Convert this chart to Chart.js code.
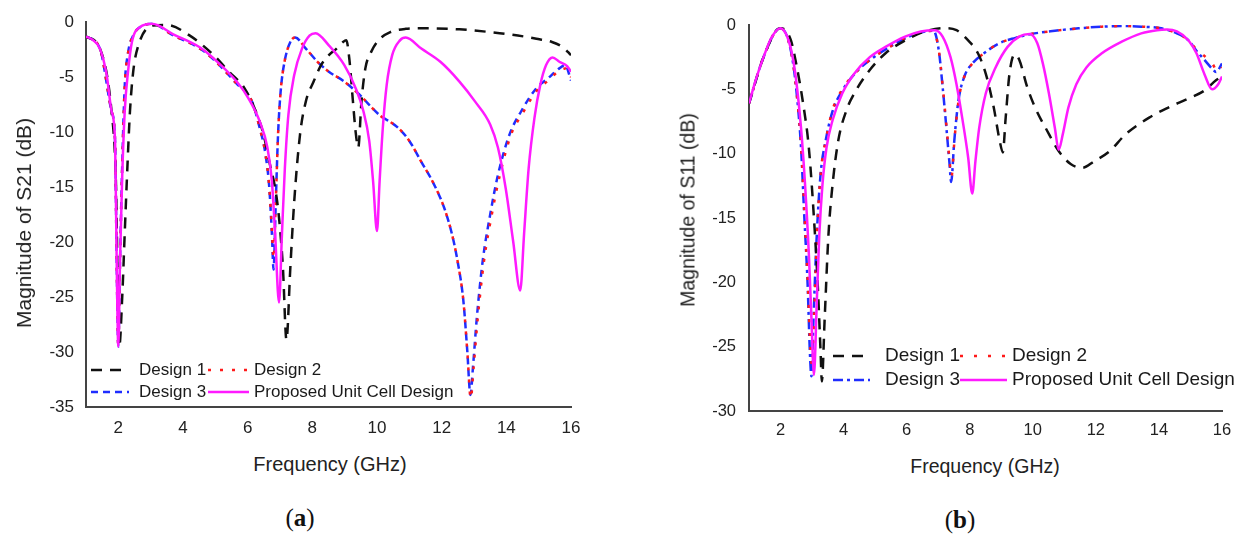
<!DOCTYPE html>
<html lang="en">
<head>
    <meta charset="UTF-8">
    <title>S21 / S11 - unit cell designs</title>
    <script src="https://cdn.jsdelivr.net/npm/chart.js"></script>
    <style>
        body { margin: 0; background: #fff; }
        #wrap { position: relative; width: 1249px; height: 536px; overflow: hidden;
                font-family: "Liberation Sans", Arial, sans-serif; color: #222; }
        canvas { position: absolute; top: 0; }
        .lbl { position: absolute; white-space: nowrap; transform: translate(-50%, -50%); }
        .ytitle { transform: translate(-50%, -50%) rotate(-90deg); }
        .cap { font-family: "Liberation Serif", serif; font-size: 25px; color: #111; }
    </style>
</head>
<body>
<div id="wrap">
    <canvas id="chartA" width="600" height="440" style="left:0"></canvas>
    <canvas id="chartB" width="609" height="440" style="left:640px"></canvas>

    <div class="lbl ytitle" style="left:24px; top:223px; font-size:21px">Magnitude of S21 (dB)</div>
    <div class="lbl" style="left:330px; top:464px; font-size:20px">Frequency (GHz)</div>
    <div class="lbl cap" style="left:300px; top:518px">(<b>a</b>)</div>

    <div class="lbl ytitle" style="left:688px; top:210px; font-size:19.5px">Magnitude of S11 (dB)</div>
    <div class="lbl" style="left:985px; top:466px; font-size:19.5px">Frequency (GHz)</div>
    <div class="lbl cap" style="left:960px; top:520px">(<b>b</b>)</div>
</div>

<script>
    // tick labels
    var xTicks = [2, 4, 6, 8, 10, 12, 14, 16];
    var seriesNames = ['Design 1', 'Design 2', 'Design 3', 'Proposed Unit Cell Design'];

    // ---- (a) S21 ----
    var s21F1 = [1, 1.43, 1.79, 1.92, 2.03, 2.12, 2.2, 2.29, 2.36, 2.46, 2.62, 3.07, 3.5, 4.2, 4.95, 5.42, 5.9, 6.25, 6.49, 6.67, 6.85, 6.97, 7.09, 7.2, 7.32, 7.44, 7.62, 7.8, 8.04, 8.27, 8.51, 8.75, 8.95, 9.05, 9.15, 9.25, 9.34, 9.42, 9.52, 9.64, 9.82, 10.06, 10.41, 10.89, 11.37, 12.55, 13.5, 14.1, 14.93, 15.41, 15.76, 16];
    var s21D1 = [-1.3, -2.4, -8.1, -14, -29.5, -25, -19, -12.5, -8.1, -4.5, -2.1, -0.3, -0.25, -1.2, -3.0, -4.5, -6.0, -8.1, -10.2, -12.7, -15.1, -17.8, -22.3, -28.9, -22.3, -16.3, -10.2, -7.2, -5.4, -3.9, -3.0, -2.4, -1.8, -1.65, -3.5, -7.0, -10.0, -11.4, -7.2, -4.2, -2.7, -1.6, -0.9, -0.6, -0.55, -0.65, -0.9, -1.1, -1.5, -1.8, -2.3, -3.0];

    var s21F2 = [1, 1.43, 1.79, 1.9, 1.95, 2.0, 2.05, 2.12, 2.2, 2.3, 2.46, 2.67, 3.04, 3.7, 4.53, 4.95, 5.66, 6.13, 6.37, 6.55, 6.67, 6.75, 6.8, 6.87, 6.94, 7.02, 7.14, 7.32, 7.47, 7.8, 8.16, 8.51, 8.99, 9.46, 10.06, 10.65, 11.0, 11.37, 11.72, 12.08, 12.32, 12.49, 12.67, 12.79, 12.9, 12.99, 13.12, 13.31, 13.55, 13.8, 14.15, 14.5, 14.95, 15.3, 15.64, 15.84, 16];
    var s21D2 = [-1.3, -2.4, -8.1, -10.9, -22, -29.5, -22, -13, -5.7, -2.8, -1.2, -0.45, -0.15, -1.2, -2.4, -3.4, -5.6, -7.2, -9.6, -12.0, -15.1, -19.0, -21.5, -16.3, -10.2, -6.3, -3.6, -1.8, -1.4, -2.4, -3.6, -4.5, -5.4, -6.6, -8.4, -9.6, -10.8, -12.7, -14.5, -16.9, -19.3, -21.7, -25.3, -29.8, -34.2, -31.3, -26.8, -21.7, -17.5, -13.9, -10.2, -8.3, -6.2, -5.3, -4.4, -4.2, -5.0];

    var s21F3 = [1, 1.43, 1.79, 1.9, 1.95, 2.0, 2.05, 2.12, 2.2, 2.3, 2.46, 2.67, 3.04, 3.7, 4.53, 4.95, 5.66, 6.13, 6.37, 6.55, 6.67, 6.75, 6.8, 6.87, 6.94, 7.02, 7.14, 7.32, 7.47, 7.8, 8.16, 8.51, 8.99, 9.46, 10.06, 10.65, 11.0, 11.37, 11.72, 12.08, 12.32, 12.49, 12.67, 12.79, 12.89, 12.97, 13.09, 13.27, 13.5, 13.74, 14.1, 14.46, 14.93, 15.29, 15.64, 15.82, 16];
    var s21D3 = [-1.3, -2.4, -8.1, -10.9, -22, -29.5, -22, -13, -5.7, -2.8, -1.2, -0.45, -0.15, -1.2, -2.4, -3.4, -5.6, -7.2, -9.6, -12.0, -15.1, -19.3, -22.5, -16.3, -10.2, -6.3, -3.6, -1.8, -1.4, -2.4, -3.6, -4.5, -5.4, -6.6, -8.4, -9.6, -10.8, -12.7, -14.5, -16.9, -19.3, -21.7, -25.3, -29.8, -33.9, -31.3, -26.8, -21.7, -17.5, -13.9, -10.2, -8.1, -6.0, -5.1, -4.2, -3.9, -5.3];

    var s21FP = [1, 1.2, 1.43, 1.64, 1.79, 1.9, 1.95, 2.0, 2.05, 2.12, 2.2, 2.3, 2.42, 2.67, 3.04, 3.7, 4.53, 4.95, 5.66, 6.02, 6.37, 6.61, 6.75, 6.85, 6.97, 7.06, 7.15, 7.26, 7.44, 7.68, 7.92, 8.1, 8.51, 8.99, 9.34, 9.58, 9.76, 9.88, 10.0, 10.08, 10.18, 10.3, 10.47, 10.71, 10.89, 11.37, 11.96, 12.55, 13.03, 13.5, 13.74, 13.98, 14.21, 14.43, 14.55, 14.69, 14.87, 15.05, 15.23, 15.43, 15.64, 15.88, 16];
    var s21P = [-1.3, -1.6, -2.4, -4.8, -8.1, -10.9, -22, -29.5, -22, -14, -8, -4.5, -1.8, -0.45, -0.15, -1.1, -2.3, -3.3, -5.4, -6.9, -9.0, -11.4, -14.5, -19.3, -25.5, -19.3, -13.3, -8.4, -4.8, -2.4, -1.2, -1.0, -2.1, -3.9, -6.0, -8.1, -10.8, -14.5, -19.0, -14.5, -9.6, -5.7, -3.0, -1.65, -1.4, -2.4, -3.6, -5.4, -7.2, -9.3, -11.4, -15.1, -19.9, -24.4, -19.2, -13.3, -8.7, -5.7, -3.9, -3.2, -3.6, -4.0, -4.5];

    // ---- (b) S11 ----
    var s11F1 = [1, 1.46, 1.99, 2.15, 2.33, 2.52, 2.71, 2.9, 3.08, 3.18, 3.27, 3.31, 3.4, 3.52, 3.65, 3.83, 4.08, 4.39, 4.83, 5.33, 5.95, 6.58, 7.2, 7.58, 7.95, 8.26, 8.51, 8.76, 8.95, 9.05, 9.14, 9.26, 9.42, 9.57, 9.82, 10.07, 10.45, 10.82, 11.2, 11.57, 11.94, 12.44, 12.94, 13.69, 14.31, 14.94, 15.44, 15.81, 16];
    var s11D1 = [-6.1, -2.5, -0.25, -0.4, -1.2, -3.3, -6.0, -9.6, -15.8, -20.2, -25.4, -27.7, -22.8, -16.3, -12.4, -9.0, -6.7, -5.1, -3.5, -2.2, -1.2, -0.5, -0.25, -0.4, -1.2, -2.2, -3.8, -6.4, -9.0, -9.9, -7.2, -3.8, -2.3, -2.7, -4.8, -6.4, -8.2, -9.8, -10.8, -11.1, -10.6, -9.8, -8.5, -7.2, -6.4, -5.7, -5.1, -4.3, -4.0];

    var s11F2 = [1, 1.46, 1.99, 2.21, 2.4, 2.52, 2.65, 2.75, 2.86, 2.94, 3.0, 3.07, 3.16, 3.28, 3.44, 3.65, 3.96, 4.46, 4.96, 5.46, 6.08, 6.58, 6.85, 7.02, 7.14, 7.26, 7.36, 7.42, 7.52, 7.65, 7.83, 8.08, 8.45, 8.95, 9.45, 9.95, 10.7, 11.45, 12.19, 12.82, 13.44, 14.07, 14.57, 14.94, 15.19, 15.44, 15.69, 15.88, 16];
    var s11D2 = [-6.1, -2.5, -0.25, -0.9, -3.0, -5.5, -9.3, -14.2, -19.8, -24.8, -26.5, -22.3, -16.0, -11.4, -8.9, -6.6, -5.0, -3.5, -2.5, -1.7, -0.9, -0.5, -0.45, -2.0, -4.7, -7.8, -10.5, -11.8, -8.8, -5.8, -4.0, -3.0, -2.2, -1.4, -1.0, -0.7, -0.45, -0.26, -0.13, -0.08, -0.13, -0.26, -0.65, -1.2, -1.9, -2.4, -3.0, -3.65, -3.3];

    var s11F3 = [1, 1.46, 1.99, 2.21, 2.4, 2.52, 2.65, 2.75, 2.86, 2.93, 2.98, 3.05, 3.15, 3.27, 3.43, 3.65, 3.96, 4.46, 4.96, 5.46, 6.08, 6.58, 6.85, 7.02, 7.14, 7.26, 7.36, 7.41, 7.51, 7.64, 7.83, 8.08, 8.45, 8.95, 9.45, 9.95, 10.7, 11.45, 12.19, 12.82, 13.44, 14.07, 14.57, 14.94, 15.19, 15.44, 15.69, 15.81, 16];
    var s11D3 = [-6.1, -2.5, -0.25, -0.9, -3.0, -5.5, -9.5, -14.7, -20.2, -25.4, -27.3, -22.5, -16.3, -11.6, -9.0, -6.7, -5.1, -3.5, -2.5, -1.7, -0.9, -0.5, -0.45, -2.0, -4.8, -8.0, -10.8, -12.2, -9.0, -5.9, -4.0, -3.0, -2.2, -1.4, -1.0, -0.7, -0.45, -0.26, -0.13, -0.08, -0.13, -0.26, -0.65, -1.2, -2.0, -2.7, -3.4, -3.65, -3.0];

    var s11FP = [1, 1.21, 1.46, 1.71, 1.99, 2.21, 2.4, 2.52, 2.65, 2.77, 2.9, 2.98, 3.06, 3.15, 3.23, 3.33, 3.46, 3.65, 3.96, 4.33, 4.83, 5.33, 5.95, 6.45, 6.9, 7.14, 7.39, 7.58, 7.76, 7.95, 8.08, 8.18, 8.3, 8.51, 8.82, 9.2, 9.57, 9.9, 10.14, 10.32, 10.51, 10.7, 10.82, 10.95, 11.13, 11.38, 11.7, 12.19, 12.82, 13.44, 13.94, 14.25, 14.57, 14.94, 15.19, 15.44, 15.69, 15.88, 16];
    var s11P = [-6.1, -4.3, -2.5, -1.0, -0.25, -0.9, -2.7, -4.8, -8.0, -12.1, -17.9, -22.8, -27.2, -21.5, -16.3, -12.4, -9.5, -7.4, -5.3, -3.8, -2.5, -1.7, -0.9, -0.5, -0.4, -0.9, -2.5, -4.6, -7.2, -10.3, -13.1, -10.6, -8.0, -5.3, -3.3, -1.7, -0.9, -0.7, -1.4, -3.0, -5.3, -8.0, -9.7, -8.5, -6.4, -4.6, -3.3, -2.2, -1.3, -0.65, -0.4, -0.35, -0.5, -1.2, -2.2, -3.8, -5.0, -4.6, -4.0];

    function pts(f, v) {
        return f.map(function(x, i) { return { x: x, y: v[i] }; });
    }

    // order: lower number is drawn on top (magenta over the rest, red dots over blue)
    function line(name, f, v, color, dash, order) {
        return {
            label: name,
            data: pts(f, v),
            borderColor: color,
            backgroundColor: color,
            borderWidth: 2.5,
            borderDash: dash,
            pointRadius: 0,
            cubicInterpolationMode: 'monotone',
            fill: false,
            order: order
        };
    }

    // legend in a 2x2 grid inside the plot, like the figure
    var gridLegend = {
        id: 'gridLegend',
        afterDatasetsDraw: function(chart, args, opts) {
            var ctx = chart.ctx;
            ctx.save();
            ctx.font = opts.font;
            ctx.textBaseline = 'middle';
            chart.data.datasets.forEach(function(ds, i) {
                var col = opts.cols[i % 2];
                var y = opts.rows[Math.floor(i / 2)];
                ctx.strokeStyle = ds.borderColor;
                ctx.lineWidth = ds.borderWidth;
                ctx.setLineDash(ds.borderDash || []);
                ctx.beginPath();
                ctx.moveTo(col[0], y);
                ctx.lineTo(col[1], y);
                ctx.stroke();
                ctx.setLineDash([]);
                ctx.fillStyle = '#1a1a1a';
                ctx.fillText(ds.label, col[2], y);
            });
            ctx.restore();
        }
    };

    function makeChart(id, datasets, yMin, pad, yWidth, xHeight, tickFont, tickPadX, tickPadY, legend) {
        return new Chart(document.getElementById(id), {
            type: 'line',
            data: { datasets: datasets },
            plugins: [gridLegend],
            options: {
                responsive: false,
                animation: false,
                layout: { padding: pad },
                plugins: {
                    legend: { display: false },
                    tooltip: { enabled: false },
                    gridLegend: legend
                },
                scales: {
                    x: {
                        type: 'linear', min: 1, max: 16,
                        afterBuildTicks: function(s) { s.ticks = xTicks.map(function(v) { return { value: v }; }); },
                        afterFit: function(s) { s.height = xHeight; },
                        grid: { display: false, drawTicks: false },
                        border: { display: true, color: '#444', width: 2 },
                        ticks: { padding: tickPadX, color: '#222', font: { family: 'Liberation Sans', size: tickFont } }
                    },
                    y: {
                        min: yMin, max: 0,
                        afterFit: function(s) { s.width = yWidth; },
                        grid: { display: false, drawTicks: false },
                        border: { display: true, color: '#444', width: 2 },
                        ticks: { stepSize: 5, padding: tickPadY, color: '#222', font: { family: 'Liberation Sans', size: tickFont } }
                    }
                }
            }
        });
    }

    makeChart('chartA', [
        line(seriesNames[0], s21F1, s21D1, '#111111', [11, 8], 1),
        line(seriesNames[1], s21F2, s21D2, '#ff1a1a', [3, 9], 2),
        line(seriesNames[2], s21F3, s21D3, '#1f2dff', [7, 5], 3),
        line(seriesNames[3], s21FP, s21P, '#ff1aff', [], 0)
    ], -35, { top: 20, right: 29, left: 0, bottom: 0 }, 86, 33, 17, 11, 12, {
        font: '17px "Liberation Sans"',
        rows: [370, 392],
        cols: [[91, 129, 139], [208, 249, 254]]
    });

    makeChart('chartB', [
        line(seriesNames[0], s11F1, s11D1, '#111111', [11, 8], 1),
        line(seriesNames[1], s11F2, s11D2, '#ff1a1a', [3, 11], 2),
        line(seriesNames[2], s11F3, s11D3, '#1f2dff', [10, 4, 3, 4], 3),
        line(seriesNames[3], s11FP, s11P, '#ff1aff', [], 0)
    ], -30, { top: 25, right: 27, left: 0, bottom: 0 }, 109, 29, 16.5, 10, 13, {
        font: '19px "Liberation Sans"',
        rows: [356, 380],
        cols: [[193, 230, 245], [320, 367, 372]]
    });
</script>
</body>
</html>
